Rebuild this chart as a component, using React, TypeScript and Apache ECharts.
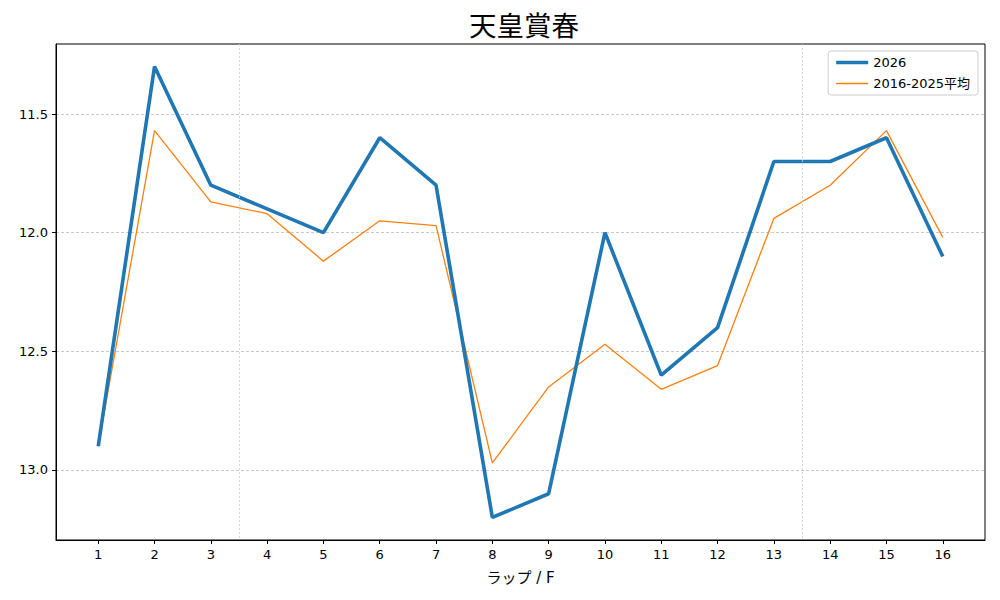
import { useEffect, useRef } from 'react'
import * as echarts from 'echarts'

// データ
const laps = [1, 2, 3, 4, 5, 6, 7, 8, 9, 10, 11, 12, 13, 14, 15, 16]
const lap2026 = [12.9, 11.3, 11.8, 11.9, 12.0, 11.6, 11.8, 13.2, 13.1, 12.0, 12.6, 12.4, 11.7, 11.7, 11.6, 12.1]
const lapAvg = [12.9, 11.57, 11.87, 11.92, 12.12, 11.95, 11.97, 12.97, 12.65, 12.47, 12.66, 12.56, 11.94, 11.8, 11.57, 12.02]
const yTicks = [11.5, 12.0, 12.5, 13.0]
const sectionLines = [3.5, 13.5]

const FONT = '"DejaVu Sans", "Noto Sans CJK JP", sans-serif'

const App: React.FC = () => {
  const chartRef = useRef<HTMLDivElement | null>(null)

  useEffect(() => {
    if (chartRef.current === null) return
    const chart = echarts.init(chartRef.current, undefined, { renderer: 'svg' })
    chart.setOption({
      animation: false,
      textStyle: { fontFamily: FONT },
      title: {
        text: '天皇賞春',
        left: 464,
        top: 5,
        textStyle: { fontSize: 27.5, fontWeight: 'normal', color: '#000', fontFamily: '"Noto Sans CJK JP", sans-serif' }
      },
      legend: {
        right: 22,
        top: 51,
        orient: 'vertical',
        itemGap: 8,
        itemWidth: 32,
        itemHeight: 10,
        padding: [5, 8, 5, 8],
        borderColor: '#ccc',
        borderWidth: 1,
        borderRadius: 3,
        symbolKeepAspect: true,
        textStyle: { fontSize: 13, color: '#000', fontFamily: FONT },
        data: [
          { name: '2026', icon: 'path://M0,0H32V3.6H0Z', itemStyle: { color: '#1f77b4' } },
          { name: '2016-2025平均', icon: 'path://M0,0H32V1.3H0Z', itemStyle: { color: '#ff7f0e' } }
        ]
      },
      grid: {
        left: 56,
        right: 15,
        top: 44,
        bottom: 60,
        show: true,
        borderColor: '#000',
        borderWidth: 1
      },
      xAxis: {
        type: 'value',
        min: 0.25,
        max: 16.75,
        name: 'ラップ / F',
        nameLocation: 'middle',
        nameGap: 30,
        nameTextStyle: { fontSize: 15, color: '#000' },
        axisLine: { lineStyle: { color: '#000' } },
        axisTick: { customValues: laps, length: 4, lineStyle: { color: '#000' } },
        axisLabel: { customValues: laps, fontSize: 13, color: '#000', margin: 8 },
        splitLine: { show: false }
      },
      yAxis: {
        type: 'value',
        inverse: true,
        min: 11.205,
        max: 13.295,
        axisLine: { show: true, lineStyle: { color: '#000' } },
        axisTick: { show: true, customValues: yTicks, length: 4, lineStyle: { color: '#000' } },
        axisLabel: {
          customValues: yTicks,
          fontSize: 13,
          color: '#000',
          formatter: (v: number) => v.toFixed(1)
        },
        splitLine: { show: true, lineStyle: { color: '#b0b0b0', type: [3, 2], width: 0.7 } }
      },
      series: [
        {
          name: '2016-2025平均',
          type: 'line',
          data: laps.map((x, i) => [x, lapAvg[i]]),
          symbol: 'none',
          z: 2,
          lineStyle: { color: '#ff7f0e', width: 1.3 },
          itemStyle: { color: '#ff7f0e' },
          markLine: {
            silent: true,
            symbol: 'none',
            label: { show: false },
            lineStyle: { color: '#cccccc', type: [2, 2], width: 0.8 },
            data: sectionLines.map((v) => ({ xAxis: v }))
          }
        },
        {
          name: '2026',
          type: 'line',
          data: laps.map((x, i) => [x, lap2026[i]]),
          symbol: 'none',
          z: 3,
          lineStyle: { color: '#1f77b4', width: 3.6 },
          itemStyle: { color: '#1f77b4' }
        }
      ]
    })
    return () => {
      chart.dispose()
    }
  }, [])

  return (
    <div
      ref={chartRef}
      style={{ position: 'fixed', left: 0, top: 0, width: 1000, height: 600, background: '#fff' }}
    ></div>
  )
}

export default App
